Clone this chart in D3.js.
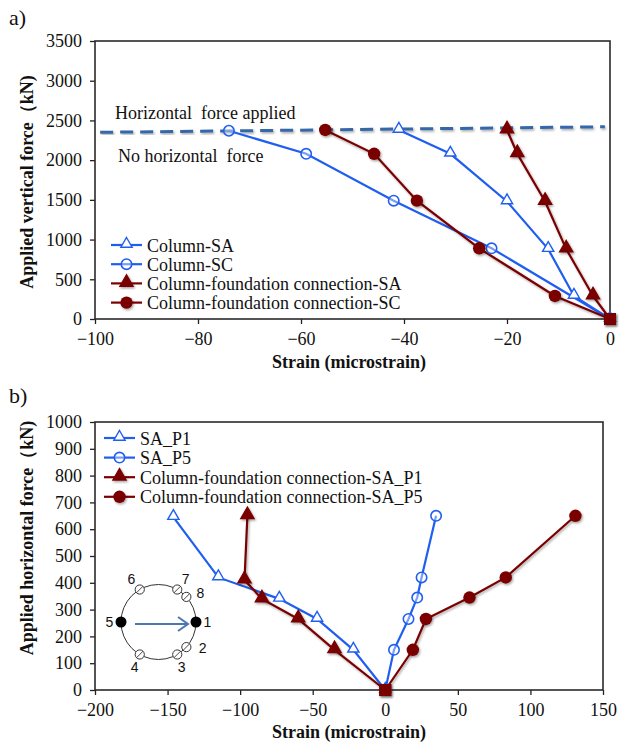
<!DOCTYPE html>
<html>
<head>
<meta charset="utf-8">
<script src="https://cdn.jsdelivr.net/npm/d3@7"></script>
<style>
  body { margin: 0; background: #fff; }
  text { font-family: "Liberation Serif", "Times New Roman", serif; fill: #111; }
</style>
</head>
<body>
<svg id="chart"></svg>
<script>
const blue = "#1f5ef0";
const darkRed = "#7a0000";
const dashBlue = "#3567a8";

// ---- panel a data ----
const saStrainA = [0, -7, -12, -20, -31, -41];
const saLoadA = [0, 290, 880, 1480, 2080, 2380];
const scStrainA = [0, -23, -42, -59, -74];
const scLoadA = [0, 890, 1490, 2080, 2370];
const cfSaStrainA = [0, -3.3, -8.5, -12.6, -18, -20];
const cfSaLoadA = [0, 290, 880, 1480, 2080, 2380];
const cfScStrainA = [0, -10.7, -25.4, -37.5, -45.8, -55.3];
const cfScLoadA = [0, 290, 890, 1490, 2080, 2380];
const dashStrainA = [-99, -1];
const dashLoadA = [2350, 2420];
const yTicksA = [0, 500, 1000, 1500, 2000, 2500, 3000, 3500];
const xTicksA = [-100, -80, -60, -40, -20, 0];
const namesA = ["Column-SA", "Column-SC", "Column-foundation connection-SA", "Column-foundation connection-SC"];

// ---- panel b data ----
const p1Strain = [0, -22, -47, -73, -115, -146];
const p1Load = [0, 150, 265, 340, 420, 645];
const p5Strain = [0, 6, 16, 22, 25, 35];
const p5Load = [0, 150, 265, 345, 420, 650];
const cfP1Strain = [0, -35, -60, -85, -97, -95];
const cfP1Load = [0, 150, 265, 340, 410, 650];
const cfP5Strain = [0, 19, 28, 58, 83, 131];
const cfP5Load = [0, 150, 265, 345, 420, 650];
const yTicksB = [0, 100, 200, 300, 400, 500, 600, 700, 800, 900, 1000];
const xTicksB = [-200, -150, -100, -50, 0, 50, 100, 150];
const namesB = ["SA_P1", "SA_P5", "Column-foundation connection-SA_P1", "Column-foundation connection-SA_P5"];

// gauge layout in the inset sketch
const gaugeIds = [1, 2, 3, 4, 5, 6, 7, 8];
const gaugeAngles = [0, -42, -60, -120, 180, 120, 60, 42];
const labelAngles = [0, -30, -63, -118, 180, 122, 58, 35];

const svg = d3.select("#chart").attr("width", 628).attr("height", 743);

const defs = svg.append("defs");
const sh = defs.append("filter").attr("id", "shadow")
  .attr("x", "-30%").attr("y", "-30%").attr("width", "160%").attr("height", "160%");
sh.append("feDropShadow").attr("dx", 1.2).attr("dy", 1.5).attr("stdDeviation", 0.9)
  .attr("flood-color", "#000").attr("flood-opacity", 0.35);

const zip = (xs, ys) => xs.map((v, i) => [v, ys[i]]);

function marker(g, kind, px, py) {
  if (kind === "tri-open" || kind === "tri-fill") {
    g.append("path")
      .attr("d", d3.symbol(d3.symbolTriangle, kind === "tri-open" ? 55 : 75)())
      .attr("transform", `translate(${px},${py - 1})`)
      .attr("fill", kind === "tri-open" ? "#fff" : darkRed)
      .attr("stroke", kind === "tri-open" ? blue : darkRed)
      .attr("stroke-width", 1.4)
      .attr("filter", kind === "tri-fill" ? "url(#shadow)" : null);
  } else if (kind === "circ-open") {
    g.append("circle").attr("cx", px).attr("cy", py).attr("r", 5.2)
      .attr("fill", "#fff").attr("fill-opacity", 0.4).attr("stroke", blue).attr("stroke-width", 1.6);
  } else if (kind === "circ-fill") {
    g.append("circle").attr("cx", px).attr("cy", py).attr("r", 6.2)
      .attr("fill", darkRed).attr("filter", "url(#shadow)");
  } else if (kind === "square") {
    g.append("rect").attr("x", px - 6).attr("y", py - 6).attr("width", 12).attr("height", 12)
      .attr("fill", darkRed).attr("filter", "url(#shadow)");
  }
}

function drawPanel(cfg) {
  const x = d3.scaleLinear().domain(cfg.xDomain).range(cfg.xRange);
  const y = d3.scaleLinear().domain(cfg.yDomain).range(cfg.yRange);
  const g = svg.append("g");
  const fmt = d3.format("d");

  // axes
  const ax = g.append("g").attr("transform", `translate(0,${cfg.yRange[0]})`)
    .call(d3.axisBottom(x).tickValues(cfg.xTicks).tickFormat(fmt).tickSize(5).tickSizeOuter(0).tickPadding(8));
  const ay = g.append("g").attr("transform", `translate(${cfg.xRange[0]},0)`)
    .call(d3.axisLeft(y).tickValues(cfg.yTicks).tickFormat(fmt).tickSize(5).tickSizeOuter(0).tickPadding(8));
  [ax, ay].forEach(a => {
    a.attr("font-family", "Liberation Serif").attr("font-size", 18);
    a.selectAll("text").attr("fill", "#111");
    a.selectAll("line").attr("stroke", "#222").attr("stroke-width", 1.3);
    a.select(".domain").remove();
  });

  // plot frame
  g.append("rect")
    .attr("x", cfg.xRange[0]).attr("y", cfg.yRange[1])
    .attr("width", cfg.xRange[1] - cfg.xRange[0]).attr("height", cfg.yRange[0] - cfg.yRange[1])
    .attr("fill", "none").attr("stroke", "#2a2a2a").attr("stroke-width", 1.6);

  if (cfg.extra) cfg.extra(g, x, y);

  const line = d3.line().x(d => x(d[0])).y(d => y(d[1]));
  cfg.series.forEach(s => {
    g.append("path").datum(s.pts).attr("d", line)
      .attr("fill", "none").attr("stroke", s.color).attr("stroke-width", 2.2)
      .attr("filter", s.color === darkRed ? "url(#shadow)" : null);
  });
  cfg.series.forEach(s => {
    s.pts.forEach((d, i) => {
      const kind = (i === 0 && s.color === darkRed) ? "square" : s.kind;
      marker(g, kind, x(d[0]), y(d[1]));
    });
  });

  // legend
  cfg.series.forEach((s, i) => {
    const cy = cfg.legend.y + i * cfg.legend.step;
    g.append("line").attr("x1", cfg.legend.x).attr("x2", cfg.legend.x + 31)
      .attr("y1", cy).attr("y2", cy).attr("stroke", s.color).attr("stroke-width", 2.2);
    marker(g, s.kind, cfg.legend.x + 15.5, cy);
    g.append("text").attr("x", cfg.legend.x + 36).attr("y", cy + 6.5)
      .style("font-size", "18px").text(s.name);
  });

  // titles
  g.append("text").attr("x", cfg.xTitle[0]).attr("y", cfg.xTitle[1])
    .attr("text-anchor", "middle").style("font-size", "18px").style("font-weight", "bold")
    .text("Strain (microstrain)");
  g.append("text").attr("transform", `translate(33,${cfg.yTitleY}) rotate(-90)`)
    .attr("text-anchor", "middle").style("font-size", "18px").style("font-weight", "bold")
    .text(cfg.yTitle);
  g.append("text").attr("x", 9).attr("y", cfg.tagY).style("font-size", "22px").text(cfg.tag);
}

// ---- panel a ----
drawPanel({
  xDomain: [-100, 0], xRange: [95, 610],
  yDomain: [0, 3500], yRange: [319, 41],
  xTicks: xTicksA, yTicks: yTicksA,
  tag: "a)", tagY: 25,
  xTitle: [349, 368],
  yTitle: "Applied vertical force（kN)", yTitleY: 182,
  legend: { x: 111, y: 245, step: 19.2 },
  series: [
    { name: namesA[0], pts: zip(saStrainA, saLoadA), color: blue, kind: "tri-open" },
    { name: namesA[1], pts: zip(scStrainA, scLoadA), color: blue, kind: "circ-open" },
    { name: namesA[2], pts: zip(cfSaStrainA, cfSaLoadA), color: darkRed, kind: "tri-fill" },
    { name: namesA[3], pts: zip(cfScStrainA, cfScLoadA), color: darkRed, kind: "circ-fill" }
  ],
  extra: (g, x, y) => {
    g.append("line")
      .attr("x1", x(dashStrainA[0])).attr("y1", y(dashLoadA[0]))
      .attr("x2", x(dashStrainA[1])).attr("y2", y(dashLoadA[1]))
      .attr("stroke", dashBlue).attr("stroke-width", 3).attr("stroke-dasharray", "13,7")
      .attr("filter", "url(#shadow)");
    g.append("text").attr("x", 115).attr("y", 119).style("font-size", "18px")
      .attr("xml:space", "preserve").text("Horizontal  force applied");
    g.append("text").attr("x", 118).attr("y", 162).style("font-size", "18px")
      .attr("xml:space", "preserve").text("No horizontal  force");
  }
});

// ---- panel b ----
drawPanel({
  xDomain: [-200, 150], xRange: [95, 603],
  yDomain: [0, 1000], yRange: [690, 422],
  xTicks: xTicksB, yTicks: yTicksB,
  tag: "b)", tagY: 403,
  xTitle: [349, 738],
  yTitle: "Applied horizontal force（kN)", yTitleY: 538,
  legend: { x: 104, y: 438, step: 19.6 },
  series: [
    { name: namesB[0], pts: zip(p1Strain, p1Load), color: blue, kind: "tri-open" },
    { name: namesB[1], pts: zip(p5Strain, p5Load), color: blue, kind: "circ-open" },
    { name: namesB[2], pts: zip(cfP1Strain, cfP1Load), color: darkRed, kind: "tri-fill" },
    { name: namesB[3], pts: zip(cfP5Strain, cfP5Load), color: darkRed, kind: "circ-fill" }
  ],
  extra: (g) => {
    // inset sketch of the gauge layout
    const cx = 158.5, cy = 622, r = 37.5;
    const ins = g.append("g");
    ins.append("circle").attr("cx", cx).attr("cy", cy).attr("r", r)
      .attr("fill", "none").attr("stroke", "#333").attr("stroke-width", 1);
    gaugeIds.forEach((id, i) => {
      const a = gaugeAngles[i] * Math.PI / 180;
      const gx = cx + r * Math.cos(a), gy = cy - r * Math.sin(a);
      if (id === 1 || id === 5) {
        ins.append("circle").attr("cx", gx).attr("cy", gy).attr("r", 5.5).attr("fill", "#000");
      } else {
        ins.append("circle").attr("cx", gx).attr("cy", gy).attr("r", 4.6)
          .attr("fill", "#fff").attr("stroke", "#333").attr("stroke-width", 1);
        ins.append("line").attr("x1", gx - 3.2).attr("y1", gy + 3.2).attr("x2", gx + 3.2).attr("y2", gy - 3.2)
          .attr("stroke", "#333").attr("stroke-width", 0.9);
      }
      const la = labelAngles[i] * Math.PI / 180;
      const lr = (id === 1 || id === 5) ? 49 : 51;
      ins.append("text").attr("x", cx + lr * Math.cos(la)).attr("y", cy - lr * Math.sin(la) + 5)
        .attr("text-anchor", "middle").style("font-family", "Liberation Sans, Arial, sans-serif")
        .style("font-size", "14px").text(id);
    });
    ins.append("line").attr("x1", 135).attr("y1", 624).attr("x2", 187).attr("y2", 624)
      .attr("stroke", "#4a78b5").attr("stroke-width", 2.2);
    ins.append("path").attr("d", "M178,617 L188,624 L178,631")
      .attr("fill", "none").attr("stroke", "#4a78b5").attr("stroke-width", 2);
  }
});
</script>
</body>
</html>
